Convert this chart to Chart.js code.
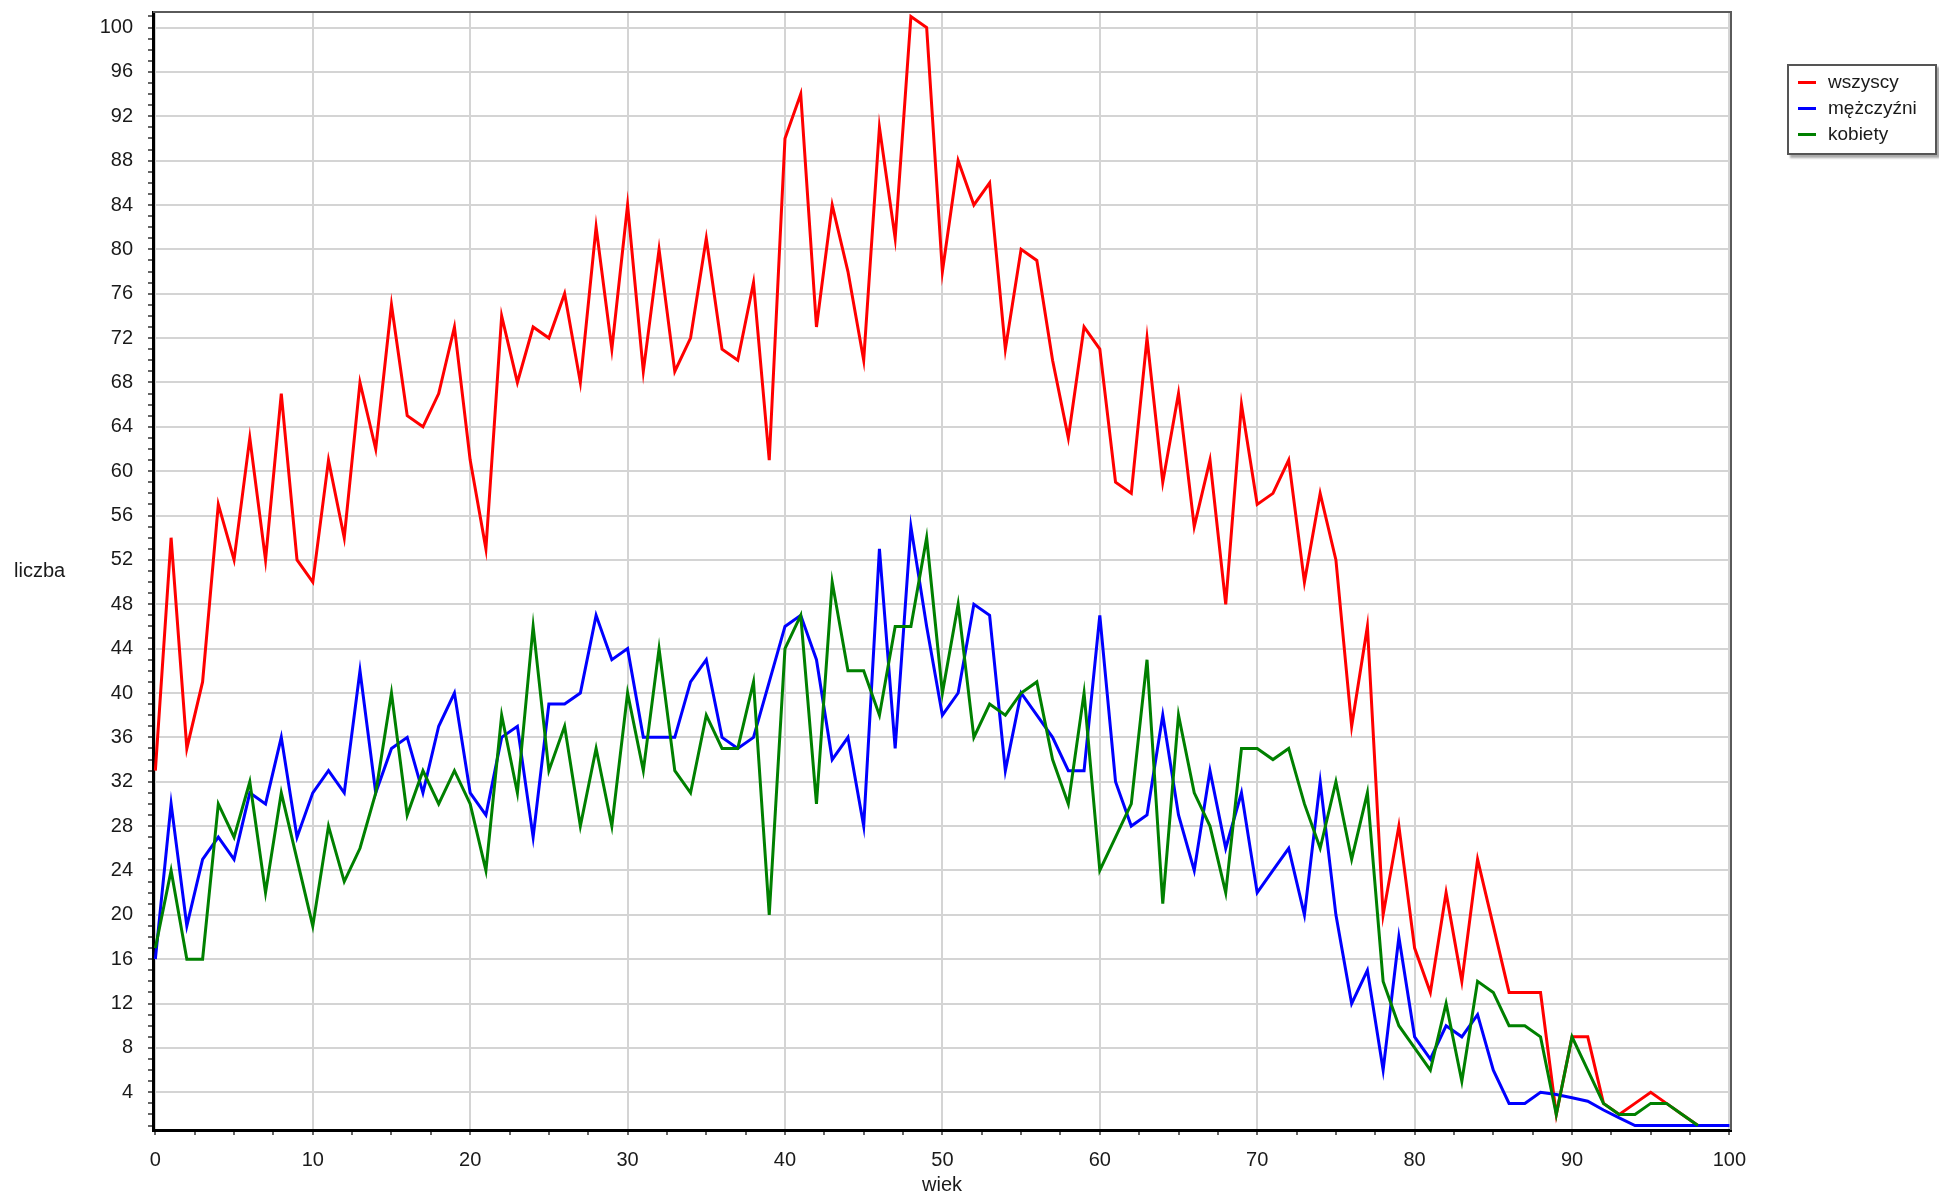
<!DOCTYPE html>
<html>
<head>
<meta charset="utf-8">
<script src="https://cdn.jsdelivr.net/npm/chart.js@4.4.1/dist/chart.umd.min.js"></script>
<style>
  body { margin: 0; background: #fff; }
  #kontener { position: relative; width: 1939px; height: 1195px; }
  #legenda {
    position: absolute; left: 1787px; top: 64px; width: 146px; height: 87px;
    border: 2px solid #555; background: #fff; box-shadow: 3px 3px 2px #aaa;
    font: 19px "Liberation Sans", Arial, sans-serif; color: #1a1a1a;
  }
  .poz { position: absolute; left: 9px; height: 24px; line-height: 24px; white-space: nowrap; }
  .kreska { display: inline-block; width: 18px; height: 3px; vertical-align: middle; margin-right: 12px; }
</style>
</head>
<body>
<div id="kontener">
  <canvas id="wykres" width="1939" height="1195"></canvas>
  <div id="legenda">
    <div class="poz" style="top:4px"><span class="kreska" style="background:#ff0000"></span>wszyscy</div>
    <div class="poz" style="top:30px"><span class="kreska" style="background:#0000ff"></span>mężczyźni</div>
    <div class="poz" style="top:56px"><span class="kreska" style="background:#008000"></span>kobiety</div>
  </div>
</div>
<script>
const wiek = [0,1,2,3,4,5,6,7,8,9,10,11,12,13,14,15,16,17,18,19,20,21,22,23,24,25,26,27,28,29,30,31,32,33,34,35,36,37,38,39,40,41,42,43,44,45,46,47,48,49,50,51,52,53,54,55,56,57,58,59,60,61,62,63,64,65,66,67,68,69,70,71,72,73,74,75,76,77,78,79,80,81,82,83,84,85,86,87,88,89,90,91,92,93,94,95,96,97,98,99,100];

const wszyscy = [33,54,35,41,57,52,63,52,67,52,
  50,61,54,68,62,75,65,64,67,73,
  61,53,74,68,73,72,76,68,82,71,
  84,69,80,69,72,81,71,70,77,61,
  90,94,73,84,78,70,91,81,101,100,
  78,88,84,86,71,80,79,70,63,73,
  71,59,58,72,59,67,55,61,48,66,
  57,58,61,50,58,52,37,46,20,28,
  17,13,22,14,25,19,13,13,13,2,
  9,9,3,2,3,4,3,2,1,null,null];

const mezczyzni = [16,30,19,25,27,25,31,30,36,27,
  31,33,31,42,31,35,36,31,37,40,
  31,29,36,37,27,39,39,40,47,43,
  44,36,36,36,41,43,36,35,36,41,
  46,47,43,34,36,28,53,35,55,46,
  38,40,48,47,33,40,38,36,33,33,
  47,32,28,29,38,29,24,33,26,31,
  22,24,26,20,32,20,12,15,6,18,
  9,7,10,9,11,6,3,3,4,3.8,
  3.5,3.2,2.4,1.7,1,1,1,1,1,1,1];

const kobiety = [17,24,16,16,30,27,32,22,31,25,
  19,28,23,26,31,40,29,33,30,33,
  30,24,38,31,46,33,37,28,35,28,
  40,33,44,33,31,38,35,35,41,20,
  44,47,30,50,42,42,38,46,46,54,
  40,48,36,39,38,40,41,34,30,40,
  24,27,30,43,21,38,31,28,22,35,
  35,34,35,30,26,32,25,31,14,10,
  8,6,12,5,14,13,10,10,9,2,
  9,6,3,2,2,3,3,2,1,null,null];

const etykietyX = [0,10,20,30,40,50,60,70,80,90,100];
const etykietyY = [4,8,12,16,20,24,28,32,36,40,44,48,52,56,60,64,68,72,76,80,84,88,92,96,100];

function punkty(seria) {
  return wiek.map((w, i) => ({ x: w, y: seria[i] }));
}

const siatka = '#d4d4d4';

// ramka wykresu i opis osi Y (poziomy)
const ramka = {
  id: 'ramka',
  afterDraw(chart) {
    const { ctx, chartArea: a } = chart;
    ctx.save();
    ctx.strokeStyle = '#5a5a5a';
    ctx.lineWidth = 2;
    ctx.beginPath();
    ctx.moveTo(a.left, a.top);
    ctx.lineTo(a.right, a.top);
    ctx.lineTo(a.right, a.bottom);
    ctx.stroke();
    ctx.fillStyle = '#1a1a1a';
    ctx.font = '20px "Liberation Sans", Arial, sans-serif';
    ctx.textBaseline = 'middle';
    ctx.fillText('liczba', 14, (a.top + a.bottom) / 2);
    ctx.restore();
  }
};

Chart.defaults.font.family = '"Liberation Sans", Arial, sans-serif';
Chart.defaults.font.size = 20;
Chart.defaults.color = '#1a1a1a';

const ctx = document.getElementById('wykres').getContext('2d');
new Chart(ctx, {
  type: 'line',
  data: {
    datasets: [
      { label: 'wszyscy', data: punkty(wszyscy), borderColor: '#ff0000', order: 3 },
      { label: 'mężczyźni', data: punkty(mezczyzni), borderColor: '#0000ff', order: 2 },
      { label: 'kobiety', data: punkty(kobiety), borderColor: '#008000', order: 1 }
    ]
  },
  options: {
    responsive: false,
    animation: false,
    devicePixelRatio: 1,
    layout: { padding: { top: 12, right: 208, left: 0, bottom: 0 } },
    elements: {
      line: { borderWidth: 3, tension: 0, fill: false },
      point: { radius: 0 }
    },
    plugins: {
      legend: { display: false },
      tooltip: { enabled: false }
    },
    scales: {
      x: {
        type: 'linear',
        min: -0.15,
        max: 100.1,
        afterFit(s) {
          s.height = 65;
          s.paddingLeft = 0;
          s.paddingRight = 0;
        },
        afterBuildTicks(s) {
          const t = [];
          for (let v = 0; v <= 100; v += 2.5) t.push({ value: v });
          s.ticks = t;
        },
        ticks: {
          autoSkip: false,
          maxRotation: 0,
          padding: 13,
          callback: v => etykietyX.includes(v) ? String(v) : ''
        },
        grid: {
          color: c => (c.tick && etykietyX.includes(c.tick.value)) ? siatka : 'rgba(0,0,0,0)',
          lineWidth: 2,
          tickColor: '#333',
          tickLength: 5,
          tickWidth: 1.5
        },
        border: { color: '#000', width: 3 },
        title: { display: true, text: 'wiek', padding: { top: 0, bottom: -2 } }
      },
      y: {
        type: 'linear',
        min: 0.6,
        max: 101.4,
        afterFit(s) {
          s.width = 153;
          s.paddingTop = 0;
          s.paddingBottom = 0;
        },
        afterBuildTicks(s) {
          const t = [];
          for (let v = 1; v <= 101; v++) t.push({ value: v });
          s.ticks = t;
        },
        ticks: {
          autoSkip: false,
          padding: 15,
          callback: v => etykietyY.includes(v) ? String(v) : ''
        },
        grid: {
          color: c => (c.tick && etykietyY.includes(c.tick.value)) ? siatka : 'rgba(0,0,0,0)',
          lineWidth: 2,
          tickColor: '#333',
          tickLength: 5,
          tickWidth: 1.5
        },
        border: { color: '#000', width: 3 }
      }
    }
  },
  plugins: [ramka]
});
</script>
</body>
</html>
